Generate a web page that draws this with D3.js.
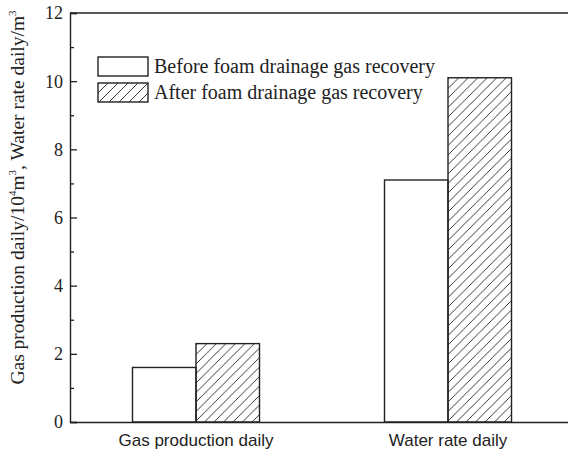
<!DOCTYPE html>
<html>
<head>
<meta charset="utf-8">
<script src="https://cdn.jsdelivr.net/npm/d3@7"></script>
<style>
  body { margin: 0; background: #fff; }
  svg { display: block; }
  .serif { font-family: "Liberation Serif", "DejaVu Serif", "Times New Roman", serif; }
</style>
</head>
<body>
<div id="chart"></div>
<script>
// chart values
const categories = ['Gas production daily', 'Water rate daily'];
const seriesNames = ['Before foam drainage gas recovery', 'After foam drainage gas recovery'];
const beforeValues = [1.6, 7.1];
const afterValues = [2.3, 10.1];
const yTicks = [0, 2, 4, 6, 8, 10, 12];

const width = 568, height = 454;
const margin = { top: 13, left: 70, bottom: 32 };
const plotRight = 574; // frame continues past the right edge (cropped)
const ink = '#222';

const svg = d3.select('#chart').append('svg')
  .attr('width', width)
  .attr('height', height);

// hatch pattern for the "after" series
const defs = svg.append('defs');
function hatch(id, size) {
  const p = defs.append('pattern')
    .attr('id', id)
    .attr('patternUnits', 'userSpaceOnUse')
    .attr('width', size)
    .attr('height', size);
  p.append('path')
    .attr('d', `M0,${size} L${size},0 M${-size / 2},${size / 2} L${size / 2},${-size / 2} M${size / 2},${size * 1.5} L${size * 1.5},${size / 2}`)
    .attr('stroke', ink)
    .attr('stroke-width', 0.9);
}
hatch('hatchBar', 9.5);
hatch('hatchLegend', 10);

const y = d3.scaleLinear().domain([0, 12]).range([height - margin.bottom, margin.top]);
const x = d3.scaleBand().domain(categories).range([margin.left, plotRight]).padding(0);
const sub = d3.scaleBand().domain([0, 1]).range([0, x.bandwidth() * 0.504]);
const groupOffset = (x.bandwidth() - sub.range()[1]) / 2;

// bars
const rows = categories.map((c, i) => ({ cat: c, vals: [beforeValues[i], afterValues[i]] }));
const groups = svg.append('g').selectAll('g')
  .data(rows).enter().append('g')
  .attr('transform', d => `translate(${x(d.cat) + groupOffset},0)`);

groups.selectAll('rect')
  .data(d => d.vals.map((v, k) => ({ v, k })))
  .enter().append('rect')
  .attr('x', d => sub(d.k))
  .attr('y', d => y(d.v))
  .attr('width', sub.bandwidth())
  .attr('height', d => y(0) - y(d.v))
  .attr('fill', d => d.k === 0 ? '#fff' : 'url(#hatchBar)')
  .attr('stroke', ink)
  .attr('stroke-width', 1.4);

// frame: top line
svg.append('line')
  .attr('x1', margin.left).attr('x2', width)
  .attr('y1', y(12)).attr('y2', y(12))
  .attr('stroke', ink).attr('stroke-width', 1.4);

// y axis with inward ticks
svg.append('g')
  .attr('transform', `translate(${margin.left},0)`)
  .call(d3.axisRight(y).tickValues(yTicks).tickSize(7).tickFormat(''))
  .call(g => g.select('.domain').attr('stroke', ink).attr('stroke-width', 1.4))
  .call(g => g.selectAll('.tick line').attr('stroke', ink).attr('stroke-width', 1.3));

// minor ticks
svg.append('g')
  .attr('transform', `translate(${margin.left},0)`)
  .call(d3.axisRight(y).tickValues(d3.range(1, 12, 2)).tickSize(4).tickFormat(''))
  .call(g => g.select('.domain').remove())
  .call(g => g.selectAll('.tick line').attr('stroke', ink).attr('stroke-width', 1.3));

// y tick labels
svg.append('g').selectAll('text')
  .data(yTicks).enter().append('text')
  .attr('class', 'serif')
  .attr('x', margin.left - 7)
  .attr('y', d => y(d))
  .attr('dy', '0.36em')
  .attr('text-anchor', 'end')
  .attr('font-size', 18)
  .attr('fill', ink)
  .text(d => d);

// x axis
svg.append('g')
  .attr('transform', `translate(0,${y(0)})`)
  .call(d3.axisBottom(x).tickSize(0).tickPadding(12))
  .call(g => g.select('.domain').attr('stroke', ink).attr('stroke-width', 1.4))
  .call(g => g.selectAll('text')
    .attr('font-family', null)
    .attr('font-size', 17)
    .attr('fill', ink)
    .style('font-family', '"Liberation Sans", Arial, sans-serif'));

// y label
const ylab = svg.append('text')
  .attr('class', 'serif')
  .attr('transform', `translate(24,${(y(0) + y(12)) / 2 - 20}) rotate(-90)`)
  .attr('text-anchor', 'middle')
  .attr('font-size', 19.5)
  .attr('fill', ink);
ylab.append('tspan').text('Gas production daily/10');
ylab.append('tspan').attr('font-size', 11).attr('dy', -8).text('4');
ylab.append('tspan').attr('dy', 8).text('m');
ylab.append('tspan').attr('font-size', 11).attr('dy', -8).text('3');
ylab.append('tspan').attr('dy', 8).text(', Water rate daily/m');
ylab.append('tspan').attr('font-size', 11).attr('dy', -8).text('3');

// legend
const legend = svg.append('g').attr('transform', 'translate(98,57)');
const items = legend.selectAll('g')
  .data(seriesNames).enter().append('g')
  .attr('transform', (d, i) => `translate(0,${i * 26})`);
items.append('rect')
  .attr('width', 50).attr('height', 19)
  .attr('fill', (d, i) => i === 0 ? '#fff' : 'url(#hatchLegend)')
  .attr('stroke', ink).attr('stroke-width', 1.4);
items.append('text')
  .attr('class', 'serif')
  .attr('x', 56).attr('y', 16)
  .attr('font-size', 20)
  .attr('fill', ink)
  .text(d => d);
</script>
</body>
</html>
